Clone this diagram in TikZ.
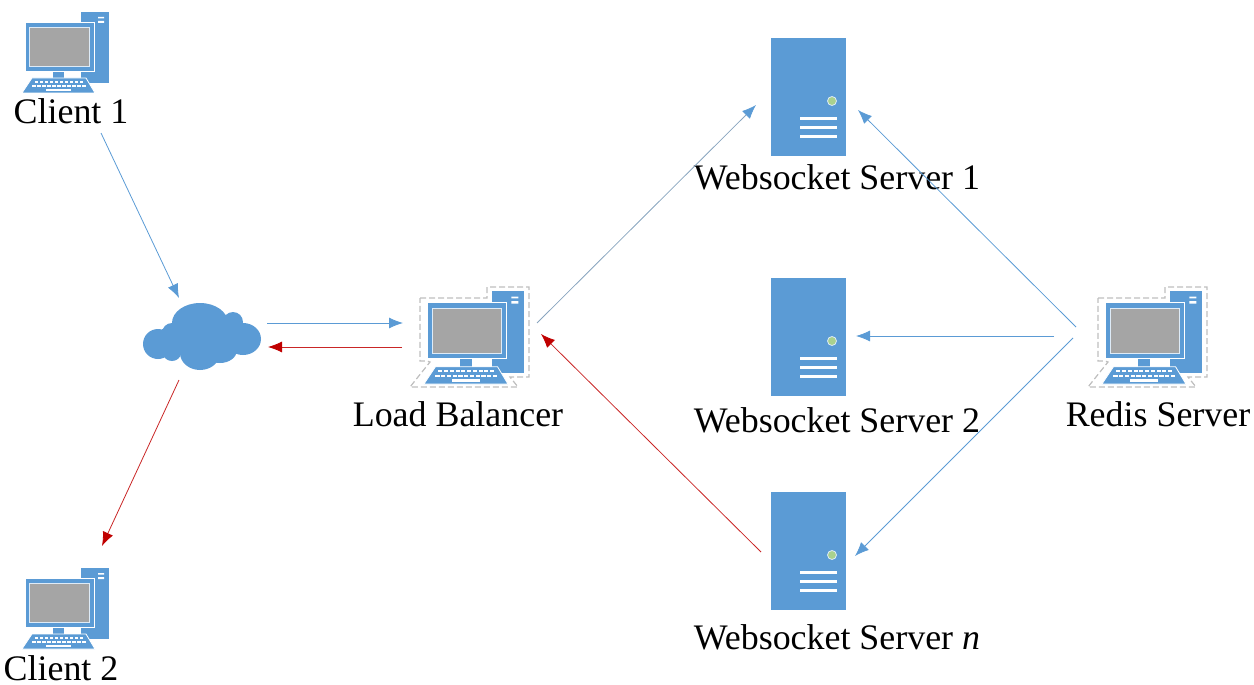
\documentclass[tikz,border=0pt]{standalone}
\usepackage{fontspec}
\setmainfont{Liberation Serif}
\usetikzlibrary{arrows.meta}
\definecolor{iconblue}{HTML}{5B9BD5}
\definecolor{arrowred}{HTML}{C00000}
\definecolor{screengray}{HTML}{A5A5A5}
\definecolor{ledgreen}{HTML}{A9D18E}
\definecolor{paleblue}{HTML}{DEEBF7}
\tikzset{
	label/.style={font=\fontsize{35.9}{36}\selectfont, inner sep=0pt, anchor=base},
	spot/.style={inner sep=0pt, minimum width=#1},
	blueline/.style={draw=iconblue, line width=.8pt, -{Latex[length=14pt,width=11pt]}},
	greyline/.style={draw=iconblue!55!gray!80, line width=.8pt, -{Latex[length=14pt,width=11pt,color=iconblue]}},
	redline/.style={draw=arrowred!85, line width=.8pt, -{Latex[length=14pt,width=11pt,color=arrowred]}},
	pics/computer/.style={code={
		\fill[iconblue] (15.5,-41) rectangle (43.5,30);
		\fill[white] (32.5,-36) rectangle (38.5,-34.5) (32.5,-32) rectangle (38.5,-30);
		\fill[iconblue] (-12.5,18) rectangle (-1.5,25);
		\draw[white, fill=iconblue, line width=.8pt] (-40.5,-31) rectangle (28.5,18);
		\draw[paleblue, fill=screengray, line width=.8pt] (-36.5,-26) rectangle (23.5,13);
		\draw[white, fill=iconblue, line width=.8pt] (-33.5,25)--(20.5,25)--(29.5,40)--(-43.5,40)--cycle;
		\foreach \x in {-31,-26,...,14}
		{
			\fill[white] (\x,28) rectangle +(3.5,1.8);
		}
		\foreach \x in {-33.5,-28.5,...,16.5}
		{
			\fill[white] (\x,32) rectangle +(3.5,1.8);
		}
		\fill[white] (-19.5,36) rectangle (5.5,38);
	}},
	pics/tower/.style={code={
		\fill[iconblue] (-37.5,-59) rectangle (37.5,59);
		\draw[paleblue, fill=ledgreen, line width=.8pt] (23.5,4) circle (4.5);
		\foreach \y in {21,30,39}
		{
			\draw[white, line width=3pt] (-8.5,\y)--(28.5,\y);
		}
	}},
	pics/cloud/.style={code={
		\fill[iconblue] (-2,-14) ellipse (28 and 20);
		\fill[iconblue] (31,-15) circle (10);
		\fill[iconblue] (41,2) ellipse (18 and 16);
		\fill[iconblue] (-2,16) ellipse (20 and 17);
		\fill[iconblue] (18,13) ellipse (17 and 13);
		\fill[iconblue] (-44,7) ellipse (15 and 15);
		\fill[iconblue] (-30,16) ellipse (9 and 8);
		\fill[iconblue] (-30,-4) circle (10);
		\fill[iconblue] (-40,-8) rectangle (42,15);
	}},
	dashedge/.style={draw=black!25, line width=1.2pt, dash pattern=on 6pt off 3pt}
}
\begin{document}
\begin{tikzpicture}[x=1pt, y=-1pt]
		\useasboundingbox (0,0) rectangle (1254,685);
		\node[spot=87] (client1) at (65.5,53){};
		\node[spot=87] (client2) at (65.5,609){};
		\node[spot=118] (cloud) at (202,337){};
		\node[spot=100] (balancer) at (474,338){};
		\node[spot=100] (redis) at (1152,338){};
		\node[spot=75] (server1) at (808.5,97){};
		\node[spot=75] (server2) at (808.5,337){};
		\node[spot=75] (servern) at (808.5,551){};
		
		\foreach \n in {client1,client2}
		{
			\pic at (\n) {computer};
		}
		\foreach \n in {balancer,redis}
		{
			\pic[scale=1.15] at (\n) {computer};
			\draw[dashedge] ([shift={(-54,-40)}]\n.center)--([shift={(13,-40)}]\n.center)--([shift={(13,-51)}]\n.center)--([shift={(55,-51)}]\n.center)--([shift={(55,39)}]\n.center)--([shift={(36,39)}]\n.center)--([shift={(44,49)}]\n.center)--([shift={(-64,49)}]\n.center)--([shift={(-44,24)}]\n.center)--([shift={(-47,23)}]\n.center)--([shift={(-54,23)}]\n.center)--cycle;
		}
		\foreach \n in {server1,server2,servern}
		{
			\pic at (\n) {tower};
		}
		\pic at (cloud) {cloud};
		
		\node[label] (client1text) at (71,124){Client 1};
		\node[label] (client2text) at (61,680){Client 2};
		\node[label] (balancertext) at (458,426){Load Balancer};
		\node[label] (redistext) at (1158,426){Redis Server};
		\node[label] (server1text) at (837,189){Websocket Server 1};
		\node[label] (server2text) at (837,432){Websocket Server 2};
		\node[label] (serverntext) at (837,649){Websocket Server \textit{n}};
		
		\draw[blueline] ([shift={(30,9)}]client1text.base)--([shift={(-23,-39)}]cloud.center);
		\draw[redline] ([shift={(-23,43)}]cloud.center)--([shift={(36.5,-63)}]client2.center);
		\draw[blueline] ([shift={(65,-14)}]cloud.center)--([shift={(-71,-15)}]balancer.center);
		\draw[redline] ([shift={(-72,9)}]balancer.center)--([shift={(66,10)}]cloud.center);
		\draw[greyline] ([shift={(63,-15)}]balancer.center)--([shift={(-52.5,8)}]server1.center);
		\draw[redline] ([shift={(-47.5,1)}]servern.center)--([shift={(67,-4)}]balancer.center);
		\draw[blueline] ([shift={(-76,-11)}]redis.center)--([shift={(49.5,13)}]server1.center);
		\draw[blueline] ([shift={(-98,-2)}]redis.center)--([shift={(47.5,-1)}]server2.center);
		\draw[blueline] ([shift={(-79,0)}]redis.center)--([shift={(46.5,5)}]servern.center);
\end{tikzpicture}
\end{document}
